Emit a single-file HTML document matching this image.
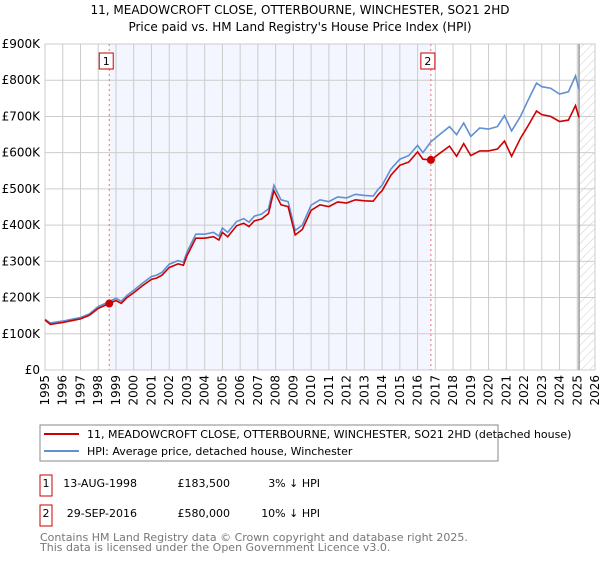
<!DOCTYPE html>
<html><head><meta charset="utf-8"><style>
body{margin:0;background:#fff;font-family:"DejaVu Sans","Liberation Sans",sans-serif;}
svg text{font-family:"DejaVu Sans","Liberation Sans",sans-serif;}
</style></head><body>
<svg width="600" height="560" xmlns="http://www.w3.org/2000/svg">
<defs><pattern id="hatch" width="6" height="6" patternUnits="userSpaceOnUse" patternTransform="rotate(45)"><line x1="0" y1="0" x2="0" y2="6" stroke="#ccc" stroke-width="1"/></pattern></defs>
<text x="300" y="14" text-anchor="middle" font-size="12">11, MEADOWCROFT CLOSE, OTTERBOURNE, WINCHESTER, SO21 2HD</text>
<text x="300" y="31" text-anchor="middle" font-size="12">Price paid vs. HM Land Registry's House Price Index (HPI)</text>
<g id="plot"></g>
<g>
<rect x="40" y="425" width="458" height="36" fill="#fff" stroke="#888"/>
<line x1="44" y1="434" x2="79" y2="434" stroke="#cc0000" stroke-width="2"/>
<text x="87" y="438" font-size="11">11, MEADOWCROFT CLOSE, OTTERBOURNE, WINCHESTER, SO21 2HD (detached house)</text>
<line x1="44" y1="451" x2="79" y2="451" stroke="#6090d0" stroke-width="2"/>
<text x="87" y="455" font-size="11">HPI: Average price, detached house, Winchester</text>
</g>
<g font-size="11">
<rect x="40" y="475" width="12" height="21" fill="#fff" stroke="#cc0000"/>
<text x="46" y="487" text-anchor="middle">1</text>
<text x="137" y="487" text-anchor="end">13-AUG-1998</text>
<text x="230" y="487" text-anchor="end">£183,500</text>
<text x="320" y="487" text-anchor="end">3% ↓ HPI</text>
<rect x="40" y="505" width="12" height="21" fill="#fff" stroke="#cc0000"/>
<text x="46" y="517" text-anchor="middle">2</text>
<text x="137" y="517" text-anchor="end">29-SEP-2016</text>
<text x="230" y="517" text-anchor="end">£580,000</text>
<text x="320" y="517" text-anchor="end">10% ↓ HPI</text>
</g>
<text x="40" y="541" font-size="11" fill="#777">Contains HM Land Registry data © Crown copyright and database right 2025.</text>
<text x="40" y="551" font-size="11" fill="#777">This data is licensed under the Open Government Licence v3.0.</text>
</svg>
<script>
const yTicks=[0,100,200,300,400,500,600,700,800,900];
const yTickLabels=["£0","£100K","£200K","£300K","£400K","£500K","£600K","£700K","£800K","£900K"];
const xYears=[1995,1996,1997,1998,1999,2000,2001,2002,2003,2004,2005,2006,2007,2008,2009,2010,2011,2012,2013,2014,2015,2016,2017,2018,2019,2020,2021,2022,2023,2024,2025,2026];
const hpiT=[1995.0,1995.3,1996,1996.5,1997,1997.5,1998,1998.6,1999,1999.3,1999.6,2000,2000.5,2001,2001.3,2001.6,2002,2002.5,2002.8,2003,2003.5,2004,2004.5,2004.8,2005,2005.3,2005.8,2006.2,2006.5,2006.8,2007.2,2007.6,2007.9,2008.3,2008.7,2009.1,2009.5,2010,2010.5,2011,2011.5,2012,2012.5,2013,2013.5,2013.8,2014,2014.5,2015,2015.5,2016,2016.3,2016.75,2017.3,2017.8,2018.2,2018.6,2019,2019.5,2020,2020.5,2020.9,2021.3,2021.8,2022.2,2022.7,2023.0,2023.5,2024,2024.5,2024.9,2025.1];
const hpiV=[140,130,135,140,145,155,175,188,198,190,205,220,240,258,262,270,292,302,298,325,375,375,380,370,392,380,410,418,408,425,430,445,510,470,465,385,400,455,470,465,478,475,485,482,480,500,510,555,582,592,620,600,630,652,672,650,682,645,668,665,672,702,660,700,742,792,782,778,762,768,812,775];
const redT=[1995.0,1995.3,1996,1996.5,1997,1997.5,1998,1998.62,1999,1999.3,1999.6,2000,2000.5,2001,2001.3,2001.6,2002,2002.5,2002.8,2003,2003.5,2004,2004.5,2004.8,2005,2005.3,2005.8,2006.2,2006.5,2006.8,2007.2,2007.6,2007.9,2008.3,2008.7,2009.1,2009.5,2010,2010.5,2011,2011.5,2012,2012.5,2013,2013.5,2013.8,2014,2014.5,2015,2015.5,2016,2016.3,2016.75,2017.3,2017.8,2018.2,2018.6,2019,2019.5,2020,2020.5,2020.9,2021.3,2021.8,2022.2,2022.7,2023.0,2023.5,2024,2024.5,2024.9,2025.1];
const redV=[138,126,131,136,141,151,170,183.5,192,184,199,213,233,250,254,262,283,293,289,315,364,364,368,359,380,368,398,405,396,412,417,432,495,456,451,373,388,441,456,451,464,461,470,467,466,485,495,538,565,574,602,582,580,600,618,590,625,592,605,605,610,632,590,640,672,715,705,700,686,690,730,697];
const sales=[{n:"1",t:1998.62,v:183.5},{n:"2",t:2016.75,v:580}];
const L=45,R=595,T=44,B=370,y0=1995,y1=2026;
const X=t=>L+(t-y0)/(y1-y0)*(R-L);
const Y=v=>B-v/900*(B-T);
const NS="http://www.w3.org/2000/svg";
const g=document.getElementById('plot');
function mk(tag,attrs,parent){const e=document.createElementNS(NS,tag);for(const k in attrs)e.setAttribute(k,attrs[k]);(parent||g).appendChild(e);return e;}
let bg=mk('rect',{x:L,y:T,width:R-L,height:B-T,fill:'#fff'});


let sh=mk('rect',{x:X(sales[0].t),y:T,width:X(sales[1].t)-X(sales[0].t),height:B-T,fill:'#f3f6fe'});


let ht=mk('rect',{x:X(2025.1),y:T,width:R-X(2025.1),height:B-T,fill:'url(#hatch)'});


yTicks.forEach((v,i)=>{
 let l=mk('line',{x1:L,x2:R,y1:Y(v),y2:Y(v),stroke:'#ccc'});
 
 
 let t=mk('text',{x:L-5,y:Y(v)+4,'text-anchor':'end','font-size':'12'});
 t.textContent=yTickLabels[i];
 
 
});
xYears.forEach(yr=>{
 let l=mk('line',{x1:X(yr),x2:X(yr),y1:T,y2:B,stroke:'#ccc'});
 
 
 let t=mk('text',{x:0,y:0,'font-size':'12','text-anchor':'end',transform:`translate(${X(yr)+4},${B+5}) rotate(-90)`});
 t.textContent=yr;
 
 
});
let ax=mk('rect',{x:L,y:T,width:R-L,height:B-T,fill:'none',stroke:'#ccc'});


let nl=mk('line',{x1:X(2025.1),x2:X(2025.1),y1:T,y2:B,stroke:'#999','stroke-width':1.5});


sales.forEach(s=>{
 let l=mk('line',{x1:X(s.t),x2:X(s.t),y1:T,y2:B,stroke:'#f07070','stroke-dasharray':'2,3'});
 
 
 let r=mk('rect',{x:X(s.t)-10,y:53,width:14,height:16,fill:'#fff',stroke:'#cc0000'});
 
 
 let t=mk('text',{x:X(s.t)-3,y:65,'text-anchor':'middle','font-size':'11'});
 t.textContent=s.n;
 
 
});
const path=(ts,vs)=>ts.map((t,i)=>(i?'L':'M')+X(t).toFixed(1)+','+Y(vs[i]).toFixed(1)).join('');
let hp=mk('path',{d:path(hpiT,hpiV),fill:'none',stroke:'#6090d0','stroke-width':1.6});


let rp=mk('path',{d:path(redT,redV),fill:'none',stroke:'#cc0000','stroke-width':1.6});


sales.forEach(s=>{
 let c=mk('circle',{cx:X(s.t),cy:Y(s.v),r:4,fill:'#cc0000'});
 
 
});
</script>
</body></html>
